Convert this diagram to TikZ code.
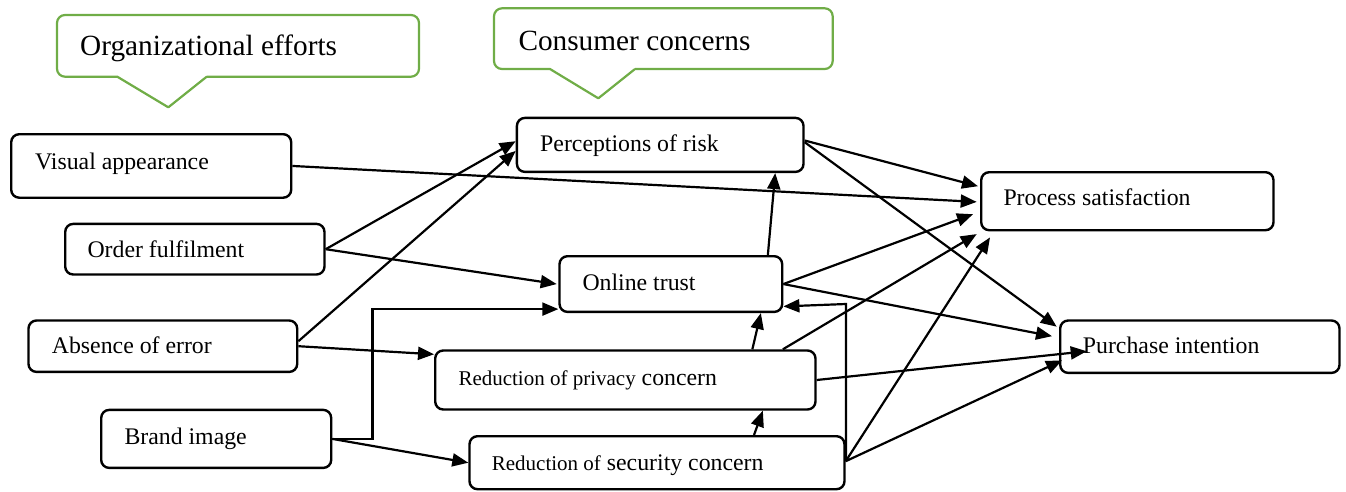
\documentclass[tikz,border=0pt]{standalone}
\usepackage{fontspec}
\setmainfont{Liberation Serif}
\usetikzlibrary{arrows.meta,calc}
\definecolor{calloutgreen}{HTML}{70AD47}
\newcommand\smallpart{\fontsize{21}{25}\selectfont}
\begin{document}
\begin{tikzpicture}[x=1pt,y=-1pt,
  box/.style={draw, line width=2.4pt, rounded corners=8pt, inner sep=0pt, anchor=north west},
  lbl/.style={anchor=base west, inner sep=0pt, font=\fontsize{23.8}{28}\selectfont},
  ctext/.style={anchor=base west, inner sep=0pt, font=\fontsize{29.3}{34}\selectfont},
  callout/.style={draw=calloutgreen, line width=2.2pt, line join=round},
  arr/.style={line width=2.2pt, -{Triangle[length=16pt,width=13pt]}}]
\useasboundingbox (0,0) rectangle (1346,491);

% group headings
\draw[callout, rounded corners=8pt] (206.7,76.7) -- (419,76.7) -- (419,15) -- (57,15) -- (57,76.7) [sharp corners] -- (117.3,76.7) -- (168.3,107.3) -- (206.7,76.7);
\node[ctext] (orgt) at (80,55) {Organizational efforts};
\draw[callout, rounded corners=8pt] (635,69) -- (832.7,69) -- (832.7,8.3) -- (494,8.3) -- (494,69) [sharp corners] -- (550,69) -- (598.3,98.3) -- (635,69);
\node[ctext] (const) at (518.3,50) {Consumer concerns};

% constructs
\node[box, minimum width=280pt,   minimum height=63.5pt] (va) at (10,133) {};
\node[box, minimum width=259.3pt, minimum height=50.6pt] (of) at (64,222.7) {};
\node[box, minimum width=268.7pt, minimum height=51.4pt] (ae) at (27.3,319.3) {};
\node[box, minimum width=230pt,   minimum height=58pt]   (bi) at (100,408.7) {};
\node[box, minimum width=286.6pt, minimum height=54pt]   (pr) at (515.7,116.7) {};
\node[box, minimum width=222.7pt, minimum height=55.7pt] (ot) at (558.3,255) {};
\node[box, minimum width=380.3pt, minimum height=59pt]   (rp) at (434,349.3) {};
\node[box, minimum width=375pt,   minimum height=53pt]   (rs) at (468.3,435) {};
\node[box, minimum width=292.3pt, minimum height=58pt]   (ps) at (980,171) {};
\node[box, minimum width=279.3pt, minimum height=52.4pt] (pi) at (1059,319.3) {};

% labels
\node[lbl] (vat) at (35,169.3) {Visual appearance};
\node[lbl] (oft) at (87.3,257.3) {Order fulfilment};
\node[lbl] (aet) at (51.7,353.3) {Absence of error};
\node[lbl] (bit) at (124.3,444) {Brand image};
\node[lbl] (prt) at (540,151.7) {Perceptions of risk};
\node[lbl] (ott) at (582.3,290) {Online trust};
\node[lbl] (rpt) at (458.3,385) {{\smallpart Reduction of privacy} concern};
\node[lbl] (rst) at (491.7,470.7) {{\smallpart Reduction of} security concern};
\node[lbl] (pst) at (1003.3,205) {Process satisfaction};
\node[lbl] (pit) at (1082.7,353.3) {Purchase intention};

% paths
\coordinate (rsup) at (846,304);
\draw[arr] (va.east) -- ([xshift=-3.3pt,yshift=-0.7pt]ps.west);
\draw[arr] (of.east) -- ([yshift=3.7pt]pr.west);
\draw[arr] (of.east) -- ([xshift=-1.6pt]ot.west);
\draw[arr] ([yshift=5pt]ae.east) -- ([yshift=-6pt]pr.west);
\draw[arr] (ae.east) -- ([yshift=-5pt]rp.north west);
\draw[arr] (bi.east) -- ++(40,0) |- ([yshift=4pt]ot.south west);
\draw[arr] (bi.east) -- (rs.west);
\draw[arr] ([xshift=97pt]ot.north) -- ([xshift=115pt]pr.south);
\draw[arr] ([xshift=127pt]rp.north) -- ([xshift=90pt]ot.south);
\draw[arr] ([xshift=97pt]rs.north) -- ([xshift=137.5pt]rp.south);
\draw[arr] ([yshift=2pt]rs.east) -| (rsup) -- ([yshift=6.7pt]ot.south east);
\draw[arr] (ot.east) -- ([xshift=-7pt,yshift=-13pt]ps.west);
\draw[arr] (ot.east) -- ([xshift=-7pt,yshift=10.5pt]pi.west);
\draw[arr] ([yshift=4.4pt]pr.east) -- ([xshift=-2pt,yshift=15pt]ps.west);
\draw[arr] ([yshift=2.7pt]pr.east) -- ([xshift=-2.3pt,yshift=-7.4pt]pi.north west);
\draw[arr] ([xshift=157.5pt]rp.north) -- ([xshift=-3.3pt,yshift=-2.7pt]ps.south west);
\draw[arr] (rp.east) -- ([xshift=27.7pt,yshift=-4.5pt]pi.west);
\draw[arr] ([yshift=1.5pt]rs.east) -- ([xshift=10pt,yshift=-6pt]ps.south west);
\draw[arr] ([yshift=1.5pt]rs.east) -- ([xshift=3pt,yshift=13.7pt]pi.south west);
\end{tikzpicture}
\end{document}
